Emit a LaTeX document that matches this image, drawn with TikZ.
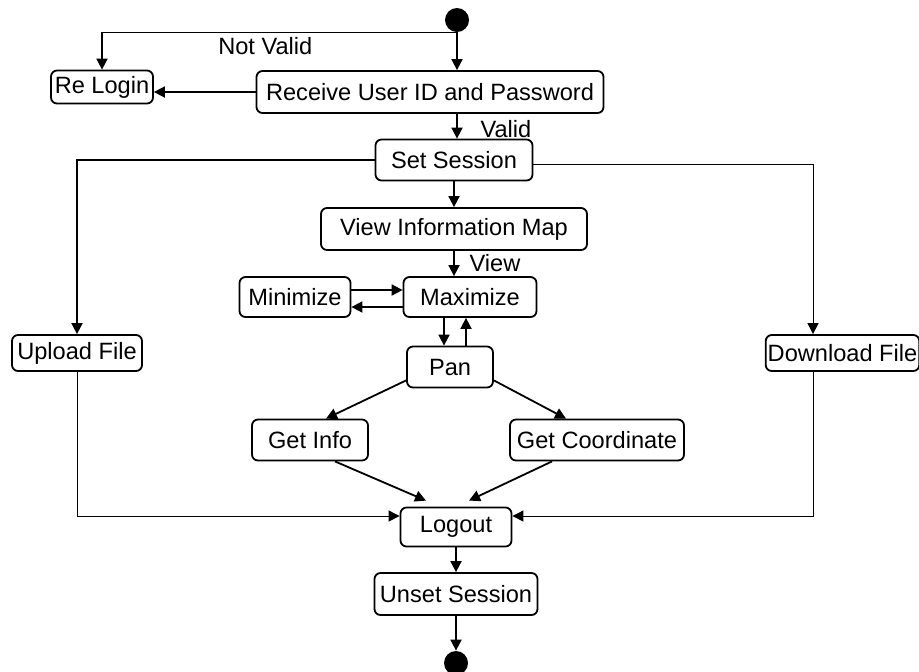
\documentclass[tikz,border=0pt]{standalone}
\usepackage{fontspec}
\setmainfont{Liberation Sans}
\usepackage{tikz}
\usetikzlibrary{arrows.meta}

\begin{document}
\begin{tikzpicture}[x=0.5pt,y=-0.5pt,
    font=\fontsize{11.8}{14}\selectfont,
    box/.style={draw,line width=0.9pt,rounded corners=3pt,inner sep=1pt,minimum height=20.5pt},
    dot/.style={circle,fill=black,inner sep=0pt,minimum size=12pt},
    arr/.style={line width=0.9pt,-{Triangle[length=5.5pt,width=5.5pt]}},
    thinarr/.style={arr,line width=0.5pt}]
\useasboundingbox (0,0) rectangle (919,671);

\node[dot] (start) at (457,20) {};
\node[box,minimum width=51pt,minimum height=16.5pt] (relogin) at (102,87) {Re Login};
\node[box,minimum width=173.5pt,minimum height=21pt] (receive) at (430,92) {Receive User ID and Password};
\node[box,minimum width=78.5pt] (setsession) at (454,160) {Set Session};
\node[box,minimum width=133pt,minimum height=21pt] (viewmap) at (454,229) {View Information Map};
\node[box,minimum width=66.5pt,minimum height=20pt] (maximize) at (470,297) {Maximize};
\node[box,minimum width=55.5pt,minimum height=20pt] (minimize) at (295,297) {Minimize};
\node[box,minimum width=43pt] (pan) at (450,367) {Pan};
\node[box,minimum width=58pt] (getinfo) at (310,440) {Get Info};
\node[box,minimum width=87pt] (getcoord) at (597,440) {Get Coordinate};
\node[box,minimum width=55.5pt,minimum height=19.5pt] (logout) at (456,527) {Logout};
\node[box,minimum width=81.5pt,minimum height=21pt] (unset) at (456,594) {Unset Session};
\node[box,minimum width=65pt,minimum height=18pt] (upload) at (77,353) {Upload File};
\node[box,minimum width=75.5pt,minimum height=18pt] (download) at (842.5,353) {Download File};
\node[dot] (stop) at (456,663) {};

\draw[arr] (start.south) -| node[pos=0.27,below,inner sep=2pt] {Not Valid} (relogin.north);
\draw[arr] (start) -- (start |- receive.north);
\draw[arr] (receive.west) -- (receive.west -| relogin.east);
\draw[arr] (receive.south -| start) -- node[pos=0.6,right=8pt] {Valid} (setsession.north -| start);
\draw[arr] (setsession.west) -| (upload.north);
\draw[thinarr] ([yshift=-2pt]setsession.east) -| ([xshift=-14.75pt]download.north);
\draw[arr] (setsession) -- (viewmap);
\draw[arr] (viewmap.south) -- node[pos=0.5,right=4pt] {View} (viewmap.south |- maximize.north);
\draw[arr] ([yshift=3.5pt]minimize.east) -- ([yshift=3.5pt]maximize.west);
\draw[arr] ([yshift=-5pt]maximize.west) -- ([yshift=-5pt]minimize.east);
\draw[arr] ([xshift=-3pt]pan.north |- maximize.south) -- ([xshift=-3pt]pan.north);
\draw[arr] ([xshift=8pt]pan.north) -- ([xshift=8pt]pan.north |- maximize.south);
\draw[arr] ([yshift=4pt]pan.south west) -- ([xshift=8pt]getinfo.north);
\draw[arr] ([yshift=4pt]pan.south east) -- ([xshift=-15.5pt]getcoord.north);
\draw[arr] ([xshift=12.5pt]getinfo.south) -- ([xshift=-15pt,yshift=3pt]logout.north);
\draw[arr] ([xshift=-22.5pt]getcoord.south) -- ([xshift=6.5pt,yshift=3pt]logout.north);
\draw[thinarr] (upload.south) |- ([yshift=5.5pt]logout.west);
\draw[thinarr] ([xshift=-14.75pt]download.south) |- ([yshift=5.5pt]logout.east);
\draw[arr] (logout) -- (unset);
\draw[arr] (unset) -- (stop);
\end{tikzpicture}
\end{document}
